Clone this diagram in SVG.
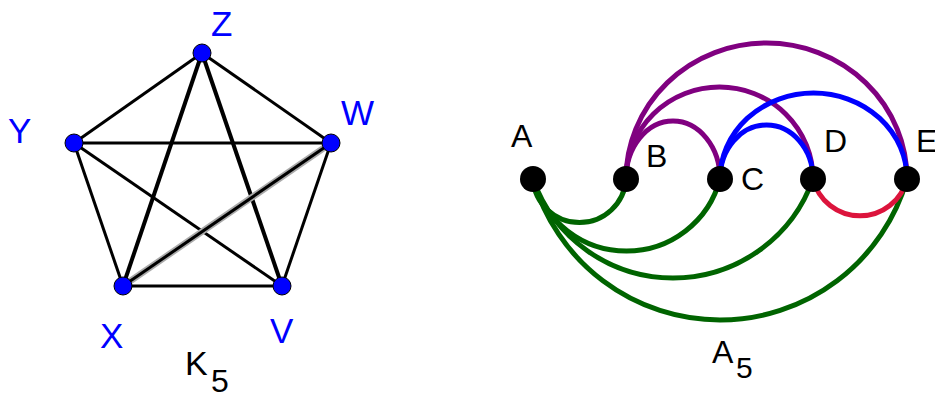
<svg xmlns="http://www.w3.org/2000/svg" width="935" height="394" viewBox="0 0 935 394">
<style>
text{font-family:"Liberation Sans",Arial,sans-serif}
.vl{fill:#0000ff;font-size:35px}
.al{fill:#000;font-size:32px}
.e{stroke:#000;stroke-width:3;fill:none}
.et{stroke:#000;stroke-width:4;fill:none}
.kn{fill:#0000ff;stroke:#000;stroke-width:1}
.an{fill:#000}
.arc{fill:none;stroke-width:5}
.g{stroke:#006400}.p{stroke:#800080}.b{stroke:#0000ff}.r{stroke:#dc143c}
</style>
<g id="k5-edges">
<line class="e" x1="202" y1="53" x2="74" y2="143"/>
<line class="e" x1="202" y1="53" x2="331" y2="143"/>
<line class="et" x1="202" y1="53" x2="123" y2="286"/>
<line class="et" x1="202" y1="53" x2="282" y2="286"/>
<line class="e" x1="74" y1="143" x2="331" y2="143"/>
<line class="e" x1="74" y1="143" x2="123" y2="286"/>
<line class="e" x1="74" y1="143" x2="282" y2="286"/>
<line x1="331" y1="143" x2="123" y2="286" stroke="#aaa" stroke-width="6.5"/>
<line class="e" x1="331" y1="143" x2="123" y2="286"/>
<line class="e" x1="331" y1="143" x2="282" y2="286"/>
<line class="e" x1="123" y1="286" x2="282" y2="286"/>
</g>
<g id="Z"><circle class="kn" cx="202" cy="53" r="9"/><text class="vl" x="211" y="36">Z</text></g>
<g id="Y"><circle class="kn" cx="74" cy="143" r="9"/><text class="vl" x="8" y="143">Y</text></g>
<g id="W"><circle class="kn" cx="331" cy="143" r="9"/><text class="vl" x="341" y="125">W</text></g>
<g id="X"><circle class="kn" cx="123" cy="286" r="9"/><text class="vl" x="100" y="348">X</text></g>
<g id="V"><circle class="kn" cx="282" cy="286" r="9"/><text class="vl" x="270" y="343">V</text></g>
<g id="k5-label"><text x="185" y="375" font-size="34">K</text><text x="211" y="392" font-size="32">5</text></g>
<g id="a5-arcs">
<path class="arc p" d="M626,179 A140.5,136 0 0 1 907,179"/>
<path class="arc p" d="M626,179 A93.5,92 0 0 1 813,179"/>
<path class="arc p" d="M626,179 A47,58 0 0 1 720,179"/>
<path class="arc b" d="M720,179 A93.5,86 0 0 1 907,179"/>
<path class="arc b" d="M720,179 A46.5,54 0 0 1 813,179"/>
<path class="arc g" d="M533,179 A46.6,46.6 0 0 0 626,179"/>
<path class="arc g" d="M533,179 A96.7,96.7 0 0 0 720,179"/>
<path class="arc g" d="M533,179 A148.5,148.5 0 0 0 813,179"/>
<path class="arc g" d="M533,179 A194.5,194.5 0 0 0 907,179"/>
<path class="arc r" d="M813,179 A48.4,48.4 0 0 0 907,179"/>
</g>
<g id="A"><circle class="an" cx="533" cy="179" r="13"/><text class="al" x="511" y="147">A</text></g>
<g id="B"><circle class="an" cx="626" cy="179" r="13"/><text class="al" x="646" y="167">B</text></g>
<g id="C"><circle class="an" cx="720" cy="179" r="13"/><text class="al" x="741" y="190">C</text></g>
<g id="D"><circle class="an" cx="813" cy="179" r="13"/><text class="al" x="824" y="152">D</text></g>
<g id="E"><circle class="an" cx="907" cy="179" r="13"/><text class="al" x="916" y="152">E</text></g>
<g id="a5-label"><text x="712" y="363" font-size="32">A</text><text x="736" y="378" font-size="30">5</text></g>
</svg>
